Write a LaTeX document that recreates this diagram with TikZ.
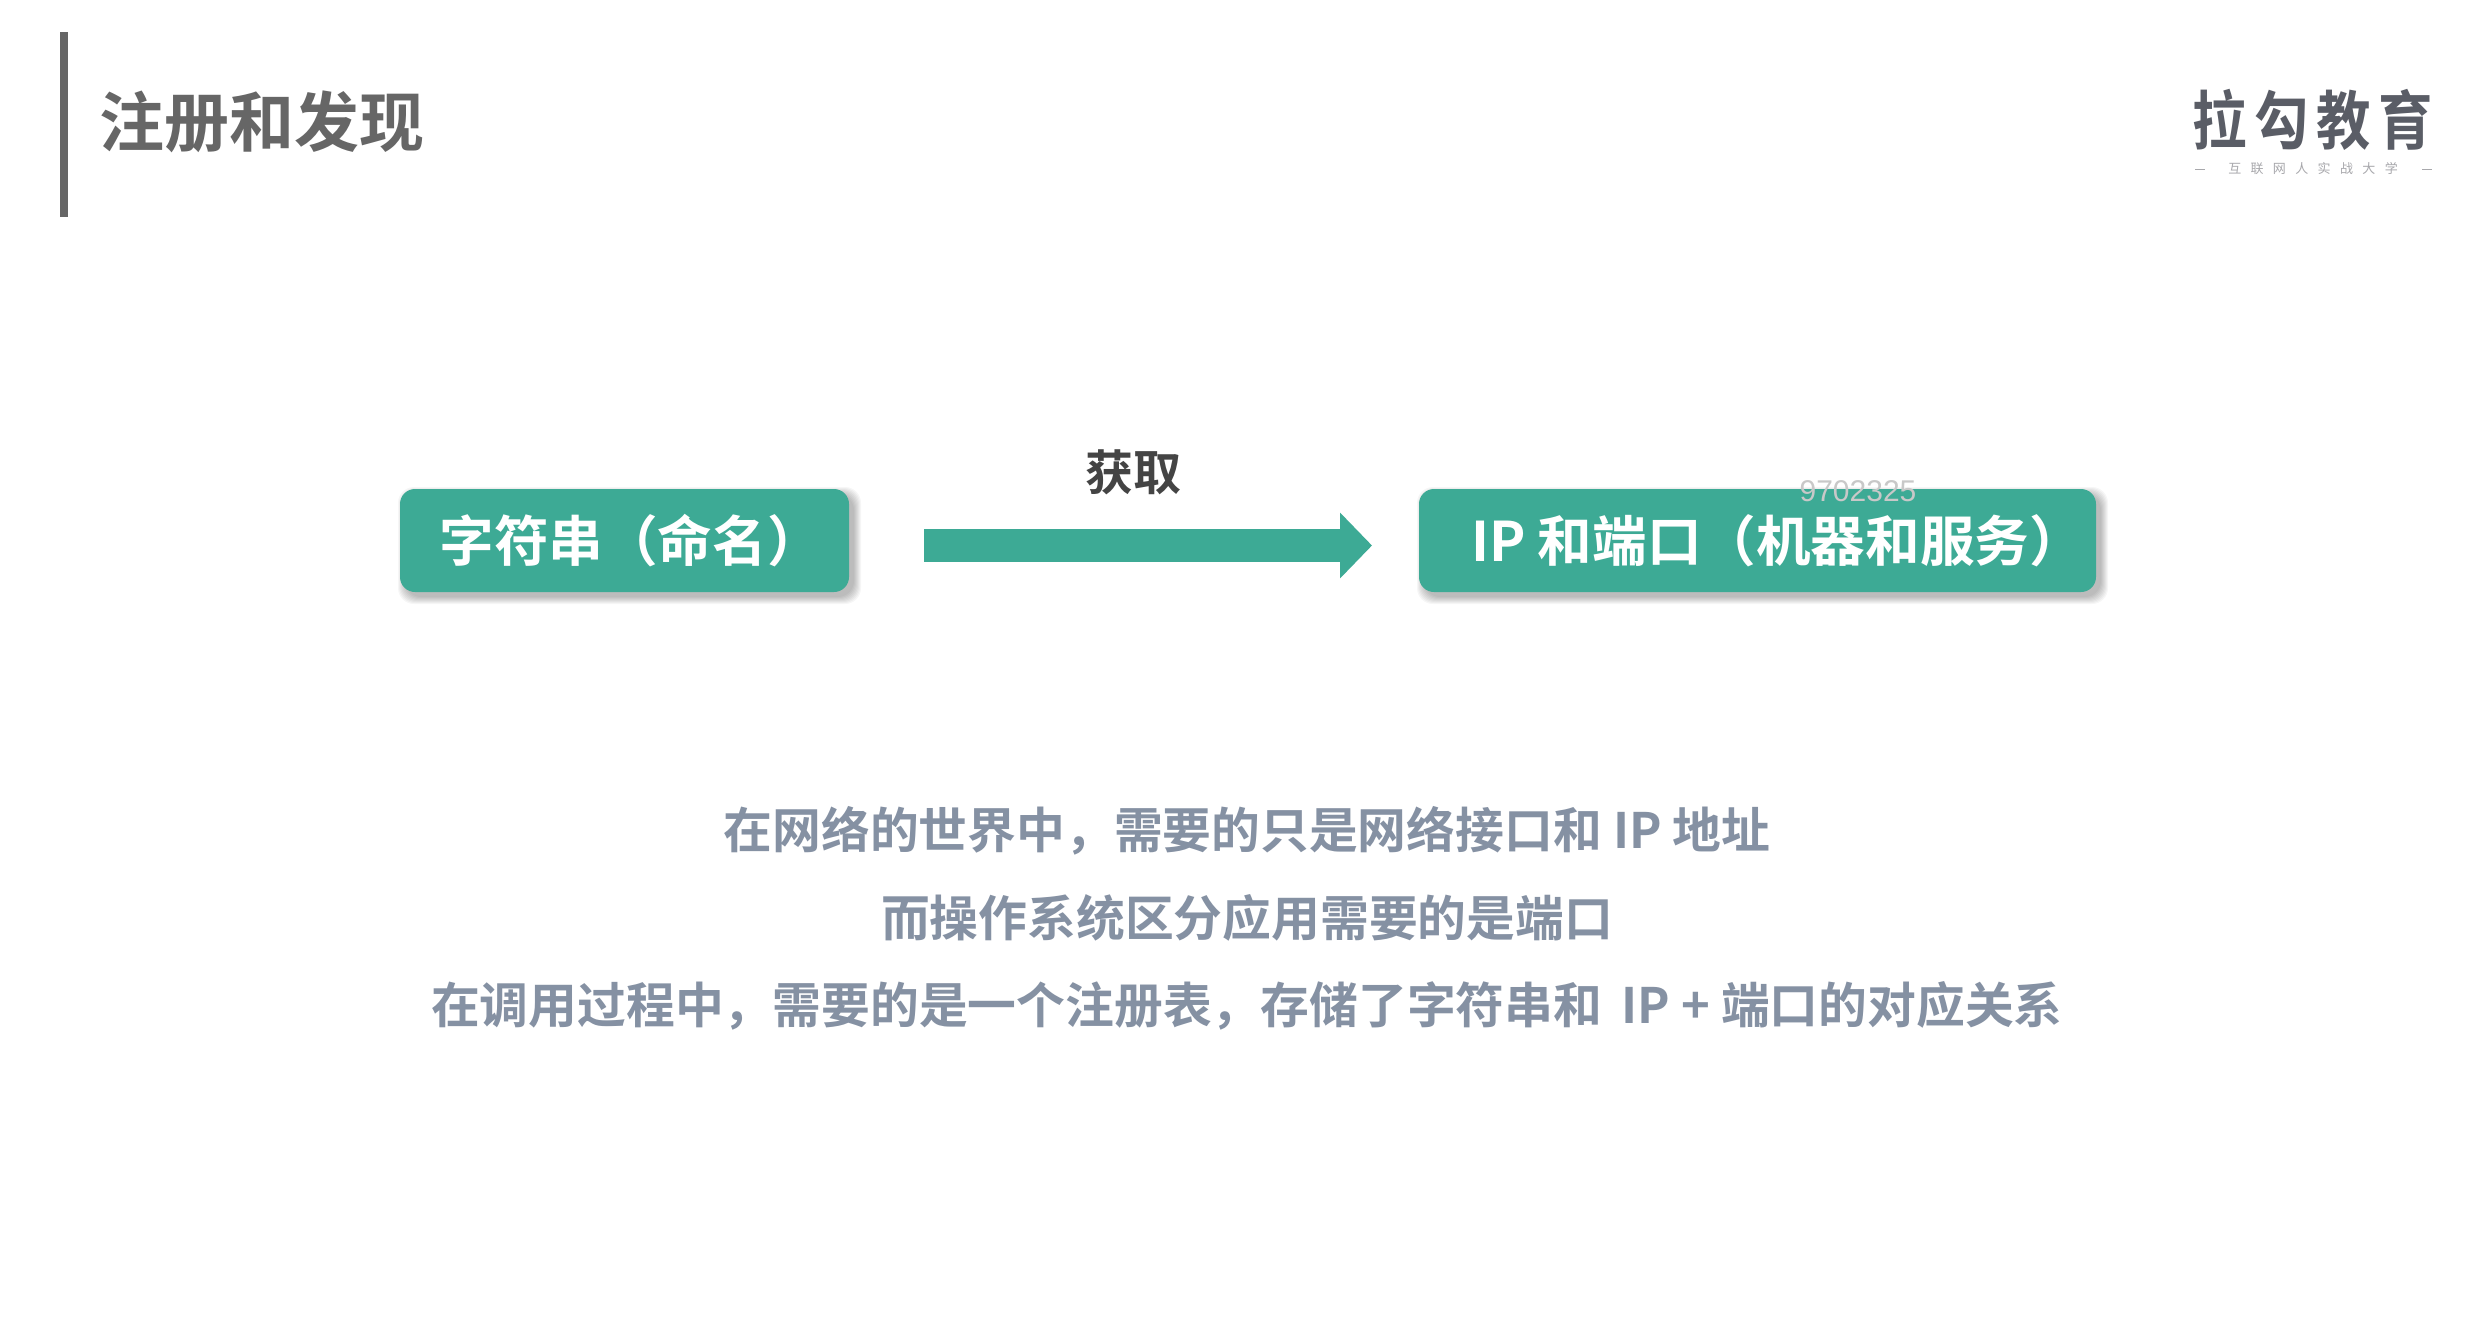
\documentclass[tikz,border=0pt]{standalone}
\usepackage{fontspec}
\setmainfont{Noto Sans CJK SC}[BoldFont={* Bold}]
\usetikzlibrary{arrows.meta}
\definecolor{tealbox}{HTML}{3DAA95}
\definecolor{titlegray}{HTML}{666666}
\definecolor{labelgray}{HTML}{444444}
\definecolor{bodygray}{HTML}{8591A3}
\definecolor{logogray}{HTML}{5A5D66}
\definecolor{subgray}{HTML}{A8A8AC}
\definecolor{markgray}{HTML}{C8C8C8}
\newcommand{\fs}[1]{\fontsize{#1pt}{#1pt}\selectfont}
\tikzset{
  x=0.5pt,y=-0.5pt,
  txt/.style={inner sep=0pt,outer sep=0pt,anchor=center},
  tealbtn/.style={fill=tealbox,rounded corners=7.5pt,draw=none,inner sep=0pt,outer sep=0pt,anchor=north west,text=white,font=\bfseries\fs{27.3},align=center},
  bodyline/.style={txt,text=bodygray,font=\bfseries\fs{24.4}},
  softshade/.style={fill=black,fill opacity=0.035,draw=none},
}
\newcommand{\softbox}[4]{%
  \foreach \g in {0,1,...,7}{
    \fill[softshade,rounded corners=8pt] (#1+5-\g,#2+5-\g) rectangle (#3+5+\g,#4+5+\g);
  }}
\begin{document}
\begin{tikzpicture}
\useasboundingbox (0,0) rectangle (2470,1330);
\fill[white] (0,0) rectangle (2470,1330);
% title
\fill[titlegray] (60,32) rectangle (68,217);
\node[txt,text=titlegray,font=\bfseries\fs{32.5}] (title) at (262,122) {注册和发现};
% logo
\node[txt,text=logogray,xscale=.85,font=\bfseries\fs{32}\addfontfeature{LetterSpace=14}] (logo) at (2313,120) {拉勾教育};
\node[txt,text=subgray,font=\fs{6.5}\addfontfeature{LetterSpace=72}] (sub) at (2313,169) {互联网人实战大学};
\coordinate (da) at (2195,169); \coordinate (db) at (2205,169);
\coordinate (dc) at (2422,169); \coordinate (dd) at (2432,169);
\draw[subgray,line width=.5pt] (da) -- (db);
\draw[subgray,line width=.5pt] (dc) -- (dd);
% boxes
\softbox{400}{489}{849}{592}
\softbox{1419}{489}{2096}{592}
\node[tealbtn,minimum width=224.5pt,minimum height=51.5pt] (lbox) at (400,489) {\hspace*{6pt}\raisebox{1pt}{字符串（命名）}};
\node[tealbtn,minimum width=338.5pt,minimum height=51.5pt] (rbox) at (1419,489) {\hspace*{20pt}\raisebox{1pt}{IP 和端口（机器和服务）}};
% arrow
\draw[tealbox,line width=16.5pt,-{Triangle[length=16pt,width=32pt]},shorten <=37.5pt,shorten >=23.5pt]
  ([yshift=-2.5pt]lbox.east) -- ([yshift=-2.5pt]rbox.west);
\node[txt,text=labelgray,font=\bfseries\fs{24}] (get) at (1133,472) {获取};
% watermark
\node[txt,text=markgray,font={\fontspec{Liberation Sans}\fs{15}}] (mark) at (1858,491) {9702325};
% body
\node[bodyline] (l1) at (1247,831) {在网络的世界中，需要的只是网络接口和 IP 地址};
\node[bodyline] (l2) at (1247,918) {而操作系统区分应用需要的是端口};
\node[bodyline] (l3) at (1247,1006) {在调用过程中，需要的是一个注册表，存储了字符串和 \,IP + 端口的对应关系};
\end{tikzpicture}
\end{document}
